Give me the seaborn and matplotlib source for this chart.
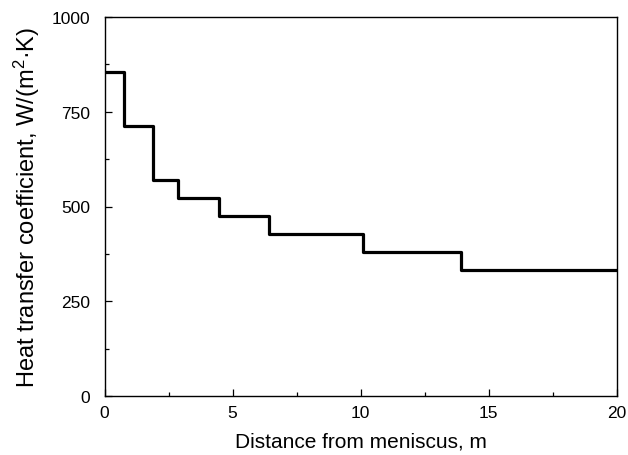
import matplotlib
matplotlib.use("Agg")
import matplotlib.pyplot as plt
from matplotlib.ticker import MultipleLocator
import seaborn as sns
import pandas as pd

# Zone boundaries along the strand (m) and heat transfer coefficient per zone
zone_edges = [0, 0.78, 1.9, 2.88, 4.48, 6.4, 10.1, 13.9, 20]
htc = [855, 712, 570, 522, 475, 427, 380, 333]

x_ticks = [0, 5, 10, 15, 20]
y_ticks = [0, 250, 500, 750, 1000]

sns.set_theme(style="white")
plt.rcParams["font.family"] = ["Liberation Sans", "DejaVu Sans"]
plt.rcParams["mathtext.fontset"] = "custom"
plt.rcParams["mathtext.rm"] = "Liberation Sans"
plt.rcParams["mathtext.it"] = "Liberation Sans"

df = pd.DataFrame({"x": zone_edges, "h": htc + [htc[-1]]})

fig = plt.figure(figsize=(6.28, 4.56), dpi=100)
ax = fig.add_axes([104.5 / 628, 1 - 397 / 456, (617 - 104.5) / 628, (397 - 18) / 456])
sns.lineplot(data=df, x="x", y="h", drawstyle="steps-post", color="black",
             linewidth=2.3, ax=ax)

ax.set_xlim(0, 20)
ax.set_ylim(0, 1000)
ax.set_xticks(x_ticks)
ax.set_yticks(y_ticks)
ax.xaxis.set_minor_locator(MultipleLocator(2.5))
ax.yaxis.set_minor_locator(MultipleLocator(125))
ax.tick_params(which="major", direction="in", length=5, width=0.9, color="black",
               labelsize=12.5, labelcolor="black")
ax.tick_params(which="minor", direction="in", length=3, width=0.9, color="black")
ax.tick_params(axis="x", which="both", bottom=True, top=False, pad=6.5)
ax.tick_params(axis="y", which="both", left=True, right=False, pad=10.5)
for s in ax.spines.values():
    s.set_color("black")
    s.set_linewidth(1.0)

ax.set_xlabel("Distance from meniscus, m", fontsize=15, color="black", labelpad=8)
ax.set_ylabel("Heat transfer coefficient, W/(m$^{2}$·K)", fontsize=17,
              color="black", labelpad=7)

fig.savefig("out.png", dpi=100)
